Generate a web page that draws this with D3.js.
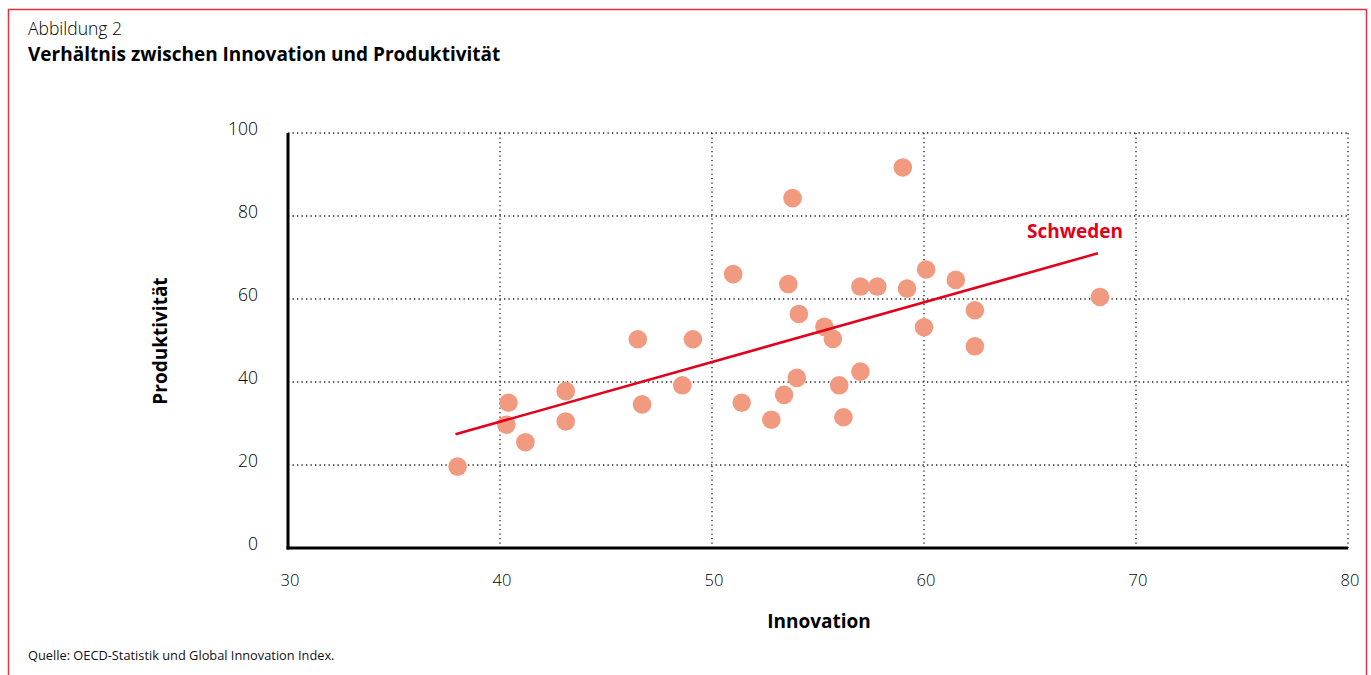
<!DOCTYPE html>
<html>
<head>
<meta charset="utf-8">
<script src="https://cdn.jsdelivr.net/npm/d3@7"></script>
<style>
  body { margin: 0; background: #fff; }
  text { font-family: "Open Sans", "Noto Sans", sans-serif; }
</style>
</head>
<body>
<div class="chart"></div>
<script>
// Data (Innovation, Produktivität)
const innovation = [38.0, 40.4, 40.3, 41.2, 43.1, 43.1, 46.5, 46.7, 49.1, 48.6, 51.0, 51.4,
  52.8, 53.4, 53.6, 53.8, 54.1, 54.0, 55.3, 55.7, 56.0, 56.2, 57.0, 57.0, 57.8, 59.0,
  59.2, 60.1, 60.0, 61.5, 62.4, 62.4, 68.3]
const produktivitaet = [19.6, 35.0, 29.7, 25.5, 37.8, 30.5, 50.3, 34.6, 50.3, 39.2, 66.0, 35.0,
  30.9, 36.9, 63.6, 84.3, 56.4, 41.0, 53.3, 50.4, 39.2, 31.5, 63.0, 42.5, 63.0, 91.7,
  62.5, 67.1, 53.2, 64.6, 57.3, 48.6, 60.5]
const trendX = [37.9, 68.2]
const trendY = [27.4, 71.0]
const xTicks = [30, 40, 50, 60, 70, 80]
const yTicks = [0, 20, 40, 60, 80, 100]

const width = 1371
const height = 675
const svg = d3.select(".chart").append("svg")
    .attr("width", width)
    .attr("height", height)

// Frame
svg.append("rect")
    .attr("x", 8.5).attr("y", 9.5)
    .attr("width", 1358).attr("height", 680)
    .attr("fill", "none")
    .attr("stroke", "#e5323f")
    .attr("stroke-width", 1.5)

// Titles
svg.append("text").attr("x", 28).attr("y", 35)
    .attr("font-size", 17.5).attr("font-weight", 300).attr("fill", "#000")
    .text("Abbildung 2")
svg.append("text").attr("x", 28).attr("y", 61)
    .attr("font-size", 19).attr("font-weight", 700).attr("fill", "#000")
    .text("Verhältnis zwischen Innovation und Produktivität")

// Scales
const x = d3.scaleLinear().domain([30, 80]).range([288, 1348])
const y = d3.scaleLinear().domain([0, 100]).range([548, 133])

// Grid
const grid = svg.append("g")
grid.selectAll(".hgrid")
    .data(yTicks.filter(d => d > 0))
    .join("line")
    .attr("x1", x(30)).attr("x2", x(80))
    .attr("y1", d => y(d)).attr("y2", d => y(d))
    .attr("stroke", "#222").attr("stroke-width", 1.3)
    .attr("stroke-dasharray", "1.3,3.2")
grid.selectAll(".vgrid")
    .data(xTicks.filter(d => d > 30))
    .join("line")
    .attr("x1", d => x(d)).attr("x2", d => x(d))
    .attr("y1", y(100)).attr("y2", y(0))
    .attr("stroke", "#222").attr("stroke-width", 1.3)
    .attr("stroke-dasharray", "1.3,3.2")

// Axes
svg.append("line")
    .attr("x1", x(30)).attr("x2", x(30))
    .attr("y1", y(100)).attr("y2", y(0) + 1.5)
    .attr("stroke", "#000").attr("stroke-width", 3)
svg.append("line")
    .attr("x1", x(30) - 1.5).attr("x2", x(80))
    .attr("y1", y(0)).attr("y2", y(0))
    .attr("stroke", "#000").attr("stroke-width", 3)

// Tick labels
svg.append("g").selectAll("text")
    .data(yTicks)
    .join("text")
    .attr("x", 258)
    .attr("y", d => y(d) + 2)
    .attr("text-anchor", "end")
    .attr("font-size", 17.5).attr("font-weight", 300).attr("fill", "#000")
    .text(d => d)
svg.append("g").selectAll("text")
    .data(xTicks)
    .join("text")
    .attr("x", d => x(d) + 2)
    .attr("y", 586)
    .attr("text-anchor", "middle")
    .attr("font-size", 16.5).attr("font-weight", 300).attr("fill", "#000")
    .text(d => d)

// Axis titles
svg.append("text")
    .attr("x", 819).attr("y", 628)
    .attr("text-anchor", "middle")
    .attr("font-size", 19).attr("font-weight", 700).attr("fill", "#000")
    .text("Innovation")
svg.append("text")
    .attr("transform", "translate(167,341) rotate(-90)")
    .attr("text-anchor", "middle")
    .attr("font-size", 19).attr("font-weight", 700).attr("fill", "#000")
    .text("Produktivität")

// Points
svg.append("g").selectAll("circle")
    .data(innovation.map((d, i) => [d, produktivitaet[i]]))
    .join("circle")
    .attr("cx", d => x(d[0]))
    .attr("cy", d => y(d[1]))
    .attr("r", 9.3)
    .attr("fill", "#f29a80")

// Trend line
svg.append("line")
    .attr("x1", x(trendX[0])).attr("y1", y(trendY[0]))
    .attr("x2", x(trendX[1])).attr("y2", y(trendY[1]))
    .attr("stroke", "#e2001a").attr("stroke-width", 2.6)

svg.append("text")
    .attr("x", 1027).attr("y", 238)
    .attr("font-size", 19).attr("font-weight", 700).attr("fill", "#e2001a")
    .text("Schweden")

// Source
svg.append("text")
    .attr("x", 28).attr("y", 660)
    .attr("font-size", 12.8).attr("fill", "#111")
    .text("Quelle: OECD-Statistik und Global Innovation Index.")
</script>
</body>
</html>
